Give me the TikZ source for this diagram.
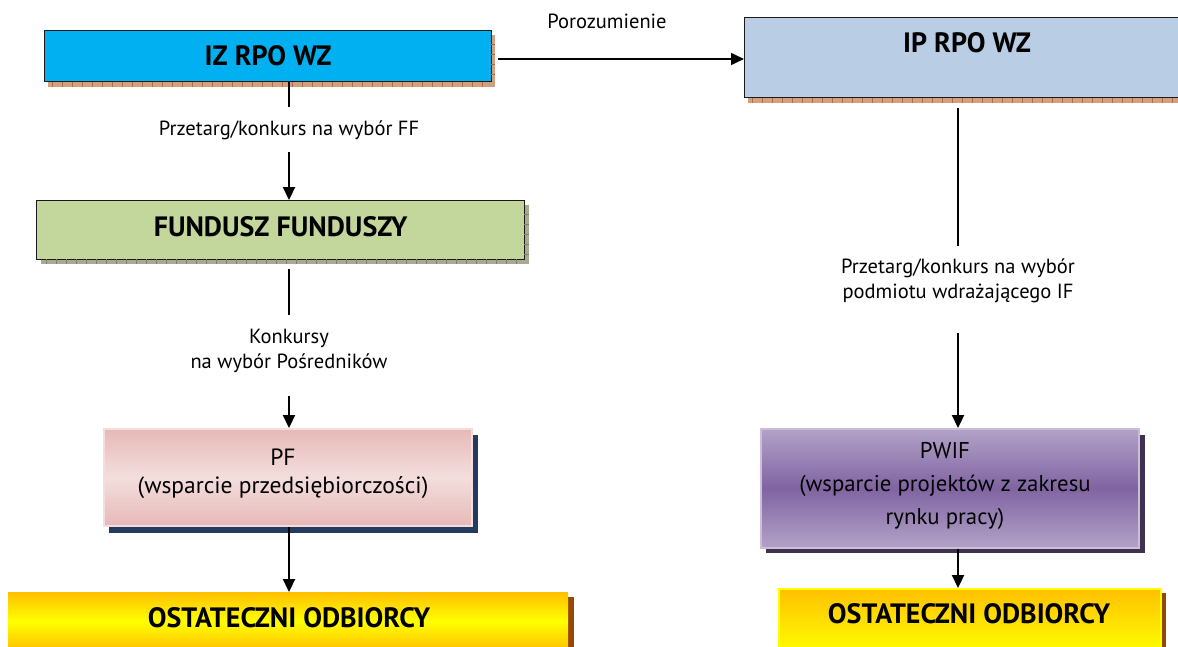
\documentclass[tikz,border=0pt]{standalone}
\usepackage{fontspec}
\setmainfont{PT Sans}
\usetikzlibrary{arrows.meta,calc,shadows}
\definecolor{izfill}{HTML}{00B0F0}
\definecolor{ipfill}{HTML}{B9CDE5}
\definecolor{fffill}{HTML}{C3D69B}
\definecolor{brsh}{HTML}{D2A07E}
\definecolor{brshl}{HTML}{B06C40}
\definecolor{ffsh}{HTML}{A9AA92}
\definecolor{ffshl}{HTML}{80806A}
\definecolor{pfa}{HTML}{E6B9B8}
\definecolor{pfb}{HTML}{F3DEDD}
\definecolor{pfsh}{HTML}{243A5E}
\definecolor{pwa}{HTML}{B3A2C7}
\definecolor{pwb}{HTML}{8064A2}
\definecolor{pwsh}{HTML}{3F3151}
\definecolor{oda}{HTML}{FFC000}
\definecolor{odb}{HTML}{FFFF00}
\definecolor{odsh}{HTML}{984806}
\definecolor{edge}{HTML}{1A1A1A}
\begin{document}
\begin{tikzpicture}[x=1pt,y=-1pt,
  lbl/.style={font=\fontsize{20.5}{25}\selectfont, align=center, inner sep=0pt},
  ttl/.style={font=\fontsize{28}{30}\selectfont\bfseries},
  box/.style={rectangle, inner sep=0pt, anchor=north west},
  arr/.style={line width=2.2pt, -{Triangle[length=13pt,width=12pt]}},
  ln/.style={line width=2.2pt}]
\useasboundingbox (0,0) rectangle (1178,646);
\begin{scope}
\clip (0,0) rectangle (1178,646);
% ---- IZ RPO WZ
\fill[brsh] (48,35) rectangle (495,87);
\node[box, fill=izfill, draw=edge, line width=1.2pt, minimum width=447pt, minimum height=51pt, ttl] (iz) at (44,30) {IZ RPO WZ};
% ---- IP RPO WZ
\fill[brsh] (748,22) rectangle (1200,103);
\node[box, fill=ipfill, draw=edge, line width=1.2pt, minimum width=460pt, minimum height=80pt] (ip) at (744,17) {};
\node[ttl, anchor=center] (iptxt) at (967,43) {IP RPO WZ};
% ---- FUNDUSZ FUNDUSZY
\fill[ffsh] (41,205) rectangle (529,264);
\node[box, fill=fffill, draw=edge, line width=1.2pt, minimum width=488pt, minimum height=59pt, ttl, text depth=8pt] (ff) at (36,200) {FUNDUSZ FUNDUSZY};
% shadow texture
\foreach \x in {52,62,...,490} \draw[brshl, line width=0.6pt] (\x,82) -- (\x,87);
\foreach \y in {44,54,64,74} \draw[brshl, line width=0.6pt] (491,\y) -- (495,\y);
\foreach \x in {752,762,...,1178} \draw[brshl, line width=0.6pt] (\x,98) -- (\x,103);
\foreach \x in {46,56,...,524} \draw[ffshl, line width=0.6pt] (\x,259) -- (\x,264);
\foreach \y in {214,224,234,244,254} \draw[ffshl, line width=0.6pt] (524,\y) -- (529,\y);
% ---- PF
\fill[pfsh] (109,435) rectangle (478,533);
\node[box, draw=pfb, line width=1.5pt, top color=pfa, bottom color=pfa, middle color=pfb, minimum width=368pt, minimum height=97pt] (pf) at (103,428) {};
\node[font=\fontsize{23.5}{28}\selectfont, align=center] (pftxt) at (283,474) {PF\\(wsparcie przedsiębiorczości)};
% ---- PWIF
\fill[pwsh] (766,435) rectangle (1145,553);
\node[box, draw=pwa!70!white, line width=1.5pt, top color=pwa, bottom color=pwa, middle color=pwb, minimum width=378pt, minimum height=119pt] (pw) at (760,428) {};
\node[font=\fontsize{22.8}{33}\selectfont, align=center] (pwtxt) at (945,486) {PWIF\\(wsparcie projektów z zakresu\\rynku pracy)};
% ---- OSTATECZNI ODBIORCY (left)
\fill[odsh] (568,597) rectangle (574,650);
\node[box, top color=oda, bottom color=oda, middle color=odb, minimum width=560pt, minimum height=58pt] (od1) at (8,592) {};
\node[ttl] (od1txt) at (289,618) {OSTATECZNI ODBIORCY};
% ---- OSTATECZNI ODBIORCY (right)
\fill[odsh] (1160,593) rectangle (1166,650);
\node[box, draw=odb, line width=2pt, top color=oda, bottom color=odb, minimum width=382pt, minimum height=64pt] (od2) at (778,588) {};
\node[ttl] (od2txt) at (969,614) {OSTATECZNI ODBIORCY};
% ---- labels
\node[lbl] (poroz) at (607,21) {Porozumienie};
\node[lbl] (l1) at (289,130) {Przetarg/konkurs na wybór FF};
\node[lbl] (l2) at (289,351) {Konkursy\\na wybór Pośredników};
\node[lbl] (l3) at (958,281) {Przetarg/konkurs na wybór\\podmiotu wdrażającego IF};
% ---- connector end points
\coordinate (a0) at (498,59);
\coordinate (c1a) at (289,107);
\coordinate (c1b) at (289,152);
\coordinate (c2a) at (289,269);
\coordinate (c2b) at (289,315);
\coordinate (c2c) at (289,396);
\coordinate (r0) at (958,108);
\coordinate (r1) at (958,246);
\coordinate (r2) at (958,333);
% ---- connectors
\draw[line width=1.5pt, -{Triangle[length=13pt,width=12pt]}] (a0) -- (ip.west |- a0);
\draw[ln] (iz.south -| c1a) -- (c1a);
\draw[arr] (c1b) -- (ff.north -| c1b);
\draw[ln] (c2a) -- (c2b);
\draw[arr] (c2c) -- (pf.north -| c2c);
\draw[ln] (r0) -- (r1);
\draw[arr] (r2) -- (pw.north -| r2);
\draw[arr] (pf.south -| c1a) -- (od1.north -| c1a);
\draw[arr] (pw.south -| r0) -- (od2.north -| r0);
\end{scope}
\end{tikzpicture}
\end{document}
